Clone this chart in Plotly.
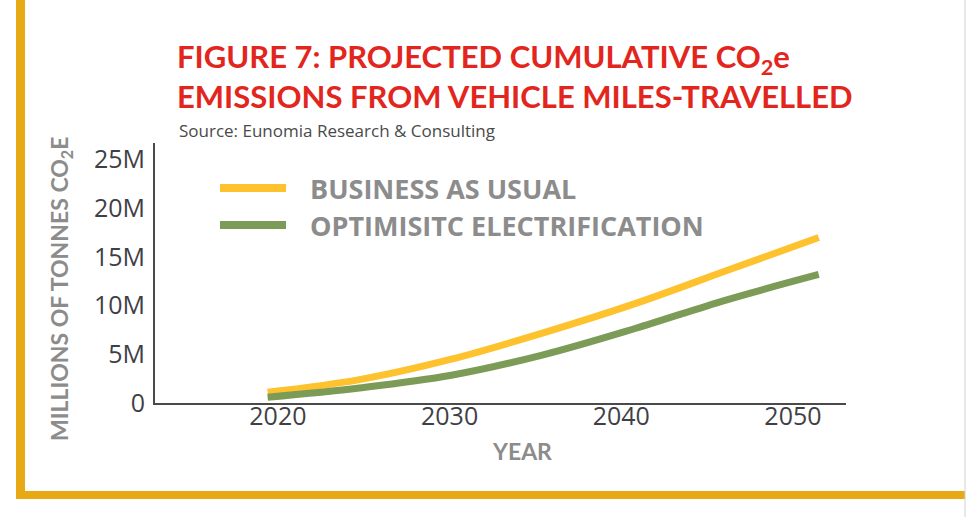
import plotly.graph_objects as go

# ---- data (millions of tonnes CO2e) ----
years = [2019.4, 2024.75, 2030.1, 2035.45, 2040.8, 2046.15, 2051.5]
bau_mt = [1.1, 2.4, 4.5, 7.2, 10.2, 13.6, 17.0]
oe_mt = [0.6, 1.55, 2.85, 4.95, 7.65, 10.6, 13.2]
series_names = ["BUSINESS AS USUAL", "OPTIMISITC ELECTRIFICATION"]
x_ticks = [2020, 2030, 2040, 2050]
y_ticks = [0, 5e6, 10e6, 15e6, 20e6, 25e6]
y_tick_text = ["0", "5M", "10M", "15M", "20M", "25M"]

# ---- style ----
W, H = 966, 517
L, R, T, B = 155, 846, 143, 403  # plot area in pixels
YELLOW = "#FEC22E"
GREEN = "#7B9B57"
GOLD = "#E8AA14"
RED = "#E2261D"
GRAY_T = "#8C8C8C"
DARK = "#3F3F46"


def px_x(p):
    return (p - L) / (R - L)


def px_y(p):
    return (B - p) / (B - T)


fig = go.Figure()
fig.add_trace(go.Scatter(
    x=years, y=[v * 1e6 for v in bau_mt], mode="lines", name=series_names[0],
    line=dict(color=YELLOW, width=7, shape="spline", smoothing=1.0), showlegend=False))
fig.add_trace(go.Scatter(
    x=years, y=[v * 1e6 for v in oe_mt], mode="lines", name=series_names[1],
    line=dict(color=GREEN, width=7, shape="spline", smoothing=1.0), showlegend=False))

shapes = [
    # gold frame (left and bottom)
    dict(type="rect", xref="paper", yref="paper", x0=px_x(16), x1=px_x(25), y0=px_y(499), y1=px_y(0),
         fillcolor=GOLD, line=dict(width=0), layer="below"),
    dict(type="rect", xref="paper", yref="paper", x0=px_x(16), x1=px_x(965), y0=px_y(499), y1=px_y(491),
         fillcolor=GOLD, line=dict(width=0), layer="below"),
    dict(type="line", xref="paper", yref="paper", x0=px_x(965), x1=px_x(965), y0=px_y(0), y1=px_y(517),
         line=dict(color="#D0D0D0", width=1)),
    # legend samples
    dict(type="line", xref="paper", yref="paper", x0=px_x(220), x1=px_x(286), y0=px_y(188), y1=px_y(188),
         line=dict(color=YELLOW, width=8)),
    dict(type="line", xref="paper", yref="paper", x0=px_x(220), x1=px_x(286), y0=px_y(225), y1=px_y(225),
         line=dict(color=GREEN, width=8)),
]

annotations = [
    dict(text="Source: Eunomia Research &amp; Consulting", xref="paper", yref="paper",
         x=px_x(177), y=px_y(130), xanchor="left", yanchor="middle", showarrow=False,
         font=dict(family="Open Sans", size=17, color="#4A4A4A")),
    dict(text=series_names[0], xref="paper", yref="paper", x=px_x(308), y=px_y(188),
         xanchor="left", yanchor="middle", showarrow=False,
         font=dict(family="Open Sans", size=27, color=GRAY_T, weight="bold")),
    dict(text=series_names[1], xref="paper", yref="paper", x=px_x(308), y=px_y(225),
         xanchor="left", yanchor="middle", showarrow=False,
         font=dict(family="Open Sans", size=27, color=GRAY_T, weight="bold")),
    # axis titles
    dict(text="YEAR", xref="paper", yref="paper", x=px_x(522), y=px_y(451),
         xanchor="center", yanchor="middle", showarrow=False,
         font=dict(family="Lato", size=23, color=GRAY_T, weight="bold")),
    dict(text="MILLIONS OF TONNES CO<sub>2</sub>E", xref="paper", yref="paper", x=px_x(60), y=px_y(289),
         xanchor="center", yanchor="middle", showarrow=False, textangle=-90,
         font=dict(family="Lato", size=23, color=GRAY_T, weight="bold")),
]

fig.update_layout(
    width=W, height=H,
    margin=dict(l=L, r=W - R, t=T, b=H - B, autoexpand=False),
    paper_bgcolor="white", plot_bgcolor="white",
    title=dict(text="FIGURE 7: PROJECTED CUMULATIVE CO<sub>2</sub>e<br>EMISSIONS FROM VEHICLE MILES-TRAVELLED",
               x=177 / W, xanchor="left", xref="container", y=1 - 68 / H, yanchor="top", yref="container",
               font=dict(family="Lato", size=31, color=RED, weight="bold")),
    shapes=shapes, annotations=annotations,
    xaxis=dict(range=[2012.84, 2053.09], tickvals=x_ticks, ticktext=[str(t) for t in x_ticks],
               showgrid=False, zeroline=False, showline=True, linecolor="#4A4A4A", linewidth=2,
               ticks="", ticklabelstandoff=-10, tickfont=dict(family="Open Sans", size=25, color=DARK)),
    yaxis=dict(range=[0, 26.7e6], tickvals=y_ticks, ticktext=y_tick_text,
               showgrid=False, zeroline=False, showline=True, linecolor="#4A4A4A", linewidth=2,
               ticks="", ticklabelstandoff=3, tickfont=dict(family="Open Sans", size=25, color=DARK)),
)

fig.write_html("out.html", config={"displayModeBar": False},
               post_script="document.body.style.margin='0';document.body.style.padding='0';")
